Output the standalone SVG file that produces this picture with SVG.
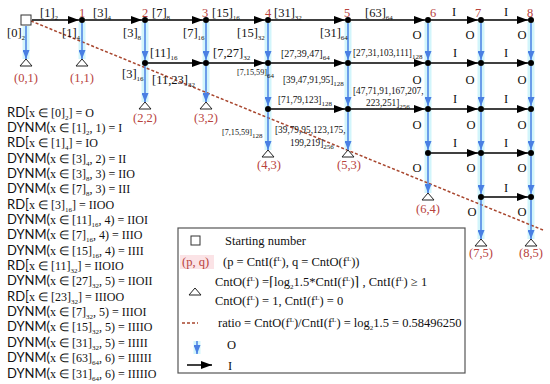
<svg xmlns="http://www.w3.org/2000/svg" width="550" height="384" viewBox="0 0 550 384">
<style>
.s{font-family:"Liberation Serif",serif;font-size:12.5px;fill:#111}
.l{font-size:12px}
.m{font-size:10px}
.n{font-size:9.3px}
.t{font-size:8.2px}
.sb{font-size:7px}
.sp{font-size:7px}
.r{fill:#b8423c}
.ss{font-family:Lato,"Liberation Sans",sans-serif;font-size:13px}
.h{stroke:#000;stroke-width:1.5;fill:none;marker-end:url(#ah)}
.v{stroke:#4a7fe3;stroke-width:1.5;fill:none;marker-end:url(#av)}
.g{stroke:#d2f5fb;stroke-width:7;fill:none}
.tri{fill:#fff;stroke:#222;stroke-width:1}
.dot{fill:#000}
.ds{stroke:#a8462e;stroke-width:1.5;stroke-dasharray:3 2;fill:none}
</style>
<defs>
<marker id="ah" markerUnits="userSpaceOnUse" markerWidth="11" markerHeight="8" refX="11" refY="4" orient="auto"><path d="M0,0 L11,4 L0,8 z" fill="#000"/></marker>
<marker id="av" markerUnits="userSpaceOnUse" markerWidth="9" markerHeight="7" refX="9" refY="3.5" orient="auto"><path d="M0,0 L9,3.5 L0,7 z" fill="#4a7fe3"/></marker>
</defs>
<rect width="550" height="384" fill="#fff"/>

<g id="glow">
<line class="g" x1="26" y1="26" x2="26" y2="59"/>
<line class="g" x1="82" y1="22" x2="82" y2="59"/>
<line class="g" x1="145" y1="22" x2="145" y2="102"/>
<line class="g" x1="206" y1="22" x2="206" y2="102"/>
<line class="g" x1="268" y1="22" x2="268" y2="150"/>
<line class="g" x1="348" y1="22" x2="348" y2="150"/>
<line class="g" x1="428" y1="22" x2="428" y2="193"/>
<line class="g" x1="481" y1="22" x2="481" y2="239"/>
<line class="g" x1="531" y1="22" x2="531" y2="239"/>
</g>

<g id="connectors">
<line class="ds" x1="31" y1="21" x2="543" y2="230"/>
<line class="h" x1="32" y1="20" x2="79" y2="20"/>
<line class="h" x1="85" y1="20" x2="142" y2="20"/>
<line class="h" x1="148" y1="20" x2="203" y2="20"/>
<line class="h" x1="209" y1="20" x2="265" y2="20"/>
<line class="h" x1="271" y1="20" x2="345" y2="20"/>
<line class="h" x1="351" y1="20" x2="425" y2="20"/>
<line class="h" x1="431" y1="20" x2="478" y2="20"/>
<line class="h" x1="484" y1="20" x2="528" y2="20"/>
<line class="h" x1="148" y1="63" x2="203" y2="63"/>
<line class="h" x1="209" y1="63" x2="265" y2="63"/>
<line class="h" x1="271" y1="63" x2="345" y2="63"/>
<line class="h" x1="351" y1="63" x2="425" y2="63"/>
<line class="h" x1="431" y1="63" x2="478" y2="63"/>
<line class="h" x1="484" y1="63" x2="528" y2="63"/>
<line class="h" x1="271" y1="109" x2="345" y2="109"/>
<line class="h" x1="351" y1="109" x2="425" y2="109"/>
<line class="h" x1="431" y1="109" x2="478" y2="109"/>
<line class="h" x1="484" y1="109" x2="528" y2="109"/>
<line class="h" x1="431" y1="153" x2="478" y2="153"/>
<line class="h" x1="484" y1="153" x2="528" y2="153"/>
<line class="h" x1="484" y1="197" x2="528" y2="197"/>
<line class="v" x1="26" y1="26" x2="26" y2="59"/>
<line class="v" x1="82" y1="23" x2="82" y2="59"/>
<line class="v" x1="145" y1="23" x2="145" y2="60"/>
<line class="v" x1="145" y1="66" x2="145" y2="102"/>
<line class="v" x1="206" y1="23" x2="206" y2="60"/>
<line class="v" x1="206" y1="66" x2="206" y2="102"/>
<line class="v" x1="268" y1="23" x2="268" y2="60"/>
<line class="v" x1="268" y1="66" x2="268" y2="106"/>
<line class="v" x1="268" y1="112" x2="268" y2="150"/>
<line class="v" x1="348" y1="23" x2="348" y2="60"/>
<line class="v" x1="348" y1="66" x2="348" y2="106"/>
<line class="v" x1="348" y1="112" x2="348" y2="150"/>
<line class="v" x1="428" y1="23" x2="428" y2="60"/>
<line class="v" x1="428" y1="66" x2="428" y2="106"/>
<line class="v" x1="428" y1="112" x2="428" y2="150"/>
<line class="v" x1="428" y1="156" x2="428" y2="193"/>
<line class="v" x1="481" y1="23" x2="481" y2="60"/>
<line class="v" x1="481" y1="66" x2="481" y2="106"/>
<line class="v" x1="481" y1="112" x2="481" y2="150"/>
<line class="v" x1="481" y1="156" x2="481" y2="194"/>
<line class="v" x1="481" y1="200" x2="481" y2="239"/>
<line class="v" x1="531" y1="23" x2="531" y2="60"/>
<line class="v" x1="531" y1="66" x2="531" y2="106"/>
<line class="v" x1="531" y1="112" x2="531" y2="150"/>
<line class="v" x1="531" y1="156" x2="531" y2="194"/>
<line class="v" x1="531" y1="200" x2="531" y2="239"/>
</g>

<g id="edge-labels" class="s">
<text x="40" y="17">[1]<tspan class="sb" dy="3">2</tspan></text>
<text x="93" y="17">[3]<tspan class="sb" dy="3">4</tspan></text>
<text x="152" y="17">[7]<tspan class="sb" dy="3">8</tspan></text>
<text x="212" y="17">[15]<tspan class="sb" dy="3">16</tspan></text>
<text x="274" y="17">[31]<tspan class="sb" dy="3">32</tspan></text>
<text x="365" y="17">[63]<tspan class="sb" dy="3">64</tspan></text>
<text x="454" y="16" text-anchor="middle">I</text>
<text x="506" y="16" text-anchor="middle">I</text>
<text x="7" y="37">[0]<tspan class="sb" dy="3">2</tspan></text>
<text x="62" y="37">[1]<tspan class="sb" dy="3">4</tspan></text>
<text x="123" y="37">[3]<tspan class="sb" dy="3">8</tspan></text>
<text x="183" y="37">[7]<tspan class="sb" dy="3">16</tspan></text>
<text x="237" y="37">[15]<tspan class="sb" dy="3">32</tspan></text>
<text x="320" y="37">[31]<tspan class="sb" dy="3">64</tspan></text>
<text x="417" y="39" text-anchor="middle">O</text>
<text x="470" y="39" text-anchor="middle">O</text>
<text x="522" y="39" text-anchor="middle">O</text>
<text x="150" y="57">[11]<tspan class="sb" dy="3">16</tspan></text>
<text x="213" y="57">[7,27]<tspan class="sb" dy="3">32</tspan></text>
<text x="281" y="57" class="m">[27,39,47]<tspan class="sb" dy="3">64</tspan></text>
<text x="353" y="56" class="n">[27,31,103,111]<tspan class="sb" dy="3">128</tspan></text>
<text x="455" y="57" text-anchor="middle">I</text>
<text x="506" y="57" text-anchor="middle">I</text>
<text x="122" y="78">[3]<tspan class="sb" dy="3">16</tspan></text>
<text x="152" y="84">[11,23]<tspan class="sb" dy="3">32</tspan></text>
<text x="237" y="75" class="t">[7,15,59]<tspan class="sb" dy="3">64</tspan></text>
<text x="283" y="83" class="n">[39,47,91,95]<tspan class="sb" dy="3">128</tspan></text>
<text x="417" y="84" text-anchor="middle">O</text>
<text x="470" y="84" text-anchor="middle">O</text>
<text x="522" y="84" text-anchor="middle">O</text>
<text x="278" y="103" class="n">[71,79,123]<tspan class="sb" dy="3">128</tspan></text>
<text x="353" y="94" class="n">[47,71,91,167,207,</text>
<text x="366" y="106" class="n">223,251]<tspan class="sb" dy="3">256</tspan></text>
<text x="455" y="103" text-anchor="middle">I</text>
<text x="506" y="103" text-anchor="middle">I</text>
<text x="417" y="129" text-anchor="middle">O</text>
<text x="471" y="129" text-anchor="middle">O</text>
<text x="522" y="129" text-anchor="middle">O</text>
<text x="222" y="135" class="t">[7,15,59]<tspan class="sb" dy="3">128</tspan></text>
<text x="275" y="133" class="n">[39,79,95,123,175,</text>
<text x="290" y="146" class="n">199,219]<tspan class="sb" dy="3">256</tspan></text>
<text x="455" y="147" text-anchor="middle">I</text>
<text x="506" y="147" text-anchor="middle">I</text>
<text x="417" y="172" text-anchor="middle">O</text>
<text x="471" y="172" text-anchor="middle">O</text>
<text x="522" y="172" text-anchor="middle">O</text>
<text x="506" y="192" text-anchor="middle">I</text>
<text x="472" y="216" text-anchor="middle">O</text>
<text x="522" y="216" text-anchor="middle">O</text>
</g>

<g id="start"><rect x="21" y="15" width="10" height="10" fill="#fff" stroke="#333" stroke-width="1"/></g>
<g id="nodes" class="s r">
<g id="n1"><circle class="dot" cx="82" cy="20" r="3"/><text x="82" y="17" text-anchor="middle">1</text></g>
<g id="n2"><circle class="dot" cx="145" cy="20" r="3"/><text x="145" y="17" text-anchor="middle">2</text></g>
<g id="n3"><circle class="dot" cx="206" cy="20" r="3"/><text x="205" y="17" text-anchor="middle">3</text></g>
<g id="n4"><circle class="dot" cx="268" cy="20" r="3"/><text x="268" y="17" text-anchor="middle">4</text></g>
<g id="n5"><circle class="dot" cx="348" cy="20" r="3"/><text x="347" y="17" text-anchor="middle">5</text></g>
<g id="n6"><circle class="dot" cx="428" cy="20" r="3"/><text x="433" y="17" text-anchor="middle">6</text></g>
<g id="n7"><circle class="dot" cx="481" cy="20" r="3"/><text x="478" y="17" text-anchor="middle">7</text></g>
<g id="n8"><circle class="dot" cx="531" cy="20" r="3"/><text x="530" y="17" text-anchor="middle">8</text></g>
<g id="r1"><circle class="dot" cx="145" cy="63" r="3"/><circle class="dot" cx="206" cy="63" r="3"/><circle class="dot" cx="268" cy="63" r="3"/><circle class="dot" cx="348" cy="63" r="3"/><circle class="dot" cx="428" cy="63" r="3"/><circle class="dot" cx="481" cy="63" r="3"/><circle class="dot" cx="531" cy="63" r="3"/></g>
<g id="r2"><circle class="dot" cx="268" cy="109" r="3"/><circle class="dot" cx="348" cy="109" r="3"/><circle class="dot" cx="428" cy="109" r="3"/><circle class="dot" cx="481" cy="109" r="3"/><circle class="dot" cx="531" cy="109" r="3"/></g>
<g id="r3"><circle class="dot" cx="428" cy="153" r="3"/><circle class="dot" cx="481" cy="153" r="3"/><circle class="dot" cx="531" cy="153" r="3"/></g>
<g id="r4"><circle class="dot" cx="481" cy="197" r="3"/><circle class="dot" cx="531" cy="197" r="3"/></g>
</g>

<g id="ends" class="s r">
<g id="e01"><path class="tri" d="M26,59 L32,66 L20,66 z"/><text x="26" y="82" text-anchor="middle">(0,1)</text></g>
<g id="e11"><path class="tri" d="M82,59 L88,66 L76,66 z"/><text x="82" y="82" text-anchor="middle">(1,1)</text></g>
<g id="e22"><path class="tri" d="M145,102 L151,109 L139,109 z"/><text x="145" y="122" text-anchor="middle">(2,2)</text></g>
<g id="e32"><path class="tri" d="M206,102 L212,109 L200,109 z"/><text x="206" y="122" text-anchor="middle">(3,2)</text></g>
<g id="e43"><path class="tri" d="M268,150 L274,157 L262,157 z"/><text x="269" y="169" text-anchor="middle">(4,3)</text></g>
<g id="e53"><path class="tri" d="M348,150 L354,157 L342,157 z"/><text x="349" y="169" text-anchor="middle">(5,3)</text></g>
<g id="e64"><path class="tri" d="M428,193 L434,200 L422,200 z"/><text x="428" y="213" text-anchor="middle">(6,4)</text></g>
<g id="e75"><path class="tri" d="M481,239 L487,246 L475,246 z"/><text x="481" y="257" text-anchor="middle">(7,5)</text></g>
<g id="e85"><path class="tri" d="M531,239 L537,246 L525,246 z"/><text x="531" y="257" text-anchor="middle">(8,5)</text></g>
</g>

<g id="list" class="s l">
<text x="7" y="116.5"><tspan class="ss">RD[</tspan>x ∈ [0]<tspan class="sb" dy="3">2</tspan><tspan dy="-3">] = O</tspan></text>
<text x="7" y="131.9"><tspan class="ss">DYNM(</tspan>x ∈ [1]<tspan class="sb" dy="3">2</tspan><tspan dy="-3">, 1) = I</tspan></text>
<text x="7" y="147.2"><tspan class="ss">RD[</tspan>x ∈ [1]<tspan class="sb" dy="3">4</tspan><tspan dy="-3">] = IO</tspan></text>
<text x="7" y="162.6"><tspan class="ss">DYNM(</tspan>x ∈ [3]<tspan class="sb" dy="3">4</tspan><tspan dy="-3">, 2) = II</tspan></text>
<text x="7" y="177.9"><tspan class="ss">DYNM(</tspan>x ∈ [3]<tspan class="sb" dy="3">8</tspan><tspan dy="-3">, 3) = IIO</tspan></text>
<text x="7" y="193.3"><tspan class="ss">DYNM(</tspan>x ∈ [7]<tspan class="sb" dy="3">8</tspan><tspan dy="-3">, 3) = III</tspan></text>
<text x="7" y="208.6"><tspan class="ss">RD[</tspan>x ∈ [3]<tspan class="sb" dy="3">16</tspan><tspan dy="-3">] = IIOO</tspan></text>
<text x="7" y="224"><tspan class="ss">DYNM(</tspan>x ∈ [11]<tspan class="sb" dy="3">16</tspan><tspan dy="-3">, 4) = IIOI</tspan></text>
<text x="7" y="239.3"><tspan class="ss">DYNM(</tspan>x ∈ [7]<tspan class="sb" dy="3">16</tspan><tspan dy="-3">, 4) = IIIO</tspan></text>
<text x="7" y="254.7"><tspan class="ss">DYNM(</tspan>x ∈ [15]<tspan class="sb" dy="3">16</tspan><tspan dy="-3">, 4) = IIII</tspan></text>
<text x="7" y="270"><tspan class="ss">RD[</tspan>x ∈ [11]<tspan class="sb" dy="3">32</tspan><tspan dy="-3">] = IIOIO</tspan></text>
<text x="7" y="285.4"><tspan class="ss">DYNM(</tspan>x ∈ [27]<tspan class="sb" dy="3">32</tspan><tspan dy="-3">, 5) = IIOII</tspan></text>
<text x="7" y="300.7"><tspan class="ss">RD[</tspan>x ∈ [23]<tspan class="sb" dy="3">32</tspan><tspan dy="-3">] = IIIOO</tspan></text>
<text x="7" y="316.1"><tspan class="ss">DYNM(</tspan>x ∈ [7]<tspan class="sb" dy="3">32</tspan><tspan dy="-3">, 5) = IIIOI</tspan></text>
<text x="7" y="331.4"><tspan class="ss">DYNM(</tspan>x ∈ [15]<tspan class="sb" dy="3">32</tspan><tspan dy="-3">, 5) = IIIIO</tspan></text>
<text x="7" y="346.8"><tspan class="ss">DYNM(</tspan>x ∈ [31]<tspan class="sb" dy="3">32</tspan><tspan dy="-3">, 5) = IIIII</tspan></text>
<text x="7" y="362.1"><tspan class="ss">DYNM(</tspan>x ∈ [63]<tspan class="sb" dy="3">64</tspan><tspan dy="-3">, 6) = IIIIII</tspan></text>
<text x="7" y="377.5"><tspan class="ss">DYNM(</tspan>x ∈ [31]<tspan class="sb" dy="3">64</tspan><tspan dy="-3">, 6) = IIIIIO</tspan></text>
</g>

<g id="legend" class="s">
<rect x="178" y="228" width="287" height="145" fill="#fff" stroke="#555" stroke-width="1.2"/>
<rect x="191" y="236" width="9" height="9" fill="#fff" stroke="#333" stroke-width="1"/>
<text x="225" y="245">Starting number</text>
<rect x="180" y="255" width="34" height="14" fill="#fbe3e6"/>
<text x="182" y="266" class="r">(p, q)</text>
<text x="223" y="266">(p = CntI(f<tspan class="sp" dy="-5">L</tspan><tspan dy="5">), q = CntO(f</tspan><tspan class="sp" dy="-5">L</tspan><tspan dy="5">))</tspan></text>
<path class="tri" d="M195,288 L201,295 L189,295 z"/>
<text x="215" y="286">CntO(f<tspan class="sp" dy="-5">L</tspan><tspan dy="5">) =⌈log</tspan><tspan class="sb" dy="3">2</tspan><tspan dy="-3">1.5*CntI(f</tspan><tspan class="sp" dy="-5">L</tspan><tspan dy="5">)⌉ , CntI(f</tspan><tspan class="sp" dy="-5">L</tspan><tspan dy="5">) ≥ 1</tspan></text>
<text x="215" y="305">CntO(f<tspan class="sp" dy="-5">L</tspan><tspan dy="5">) = 1, CntI(f</tspan><tspan class="sp" dy="-5">L</tspan><tspan dy="5">) = 0</tspan></text>
<line class="ds" x1="182" y1="323" x2="198" y2="323" stroke="#c0392b"/>
<text x="218" y="327">ratio = CntO(f<tspan class="sp" dy="-5">L</tspan><tspan dy="5">)/CntI(f</tspan><tspan class="sp" dy="-5">L</tspan><tspan dy="5">) = log</tspan><tspan class="sb" dy="3">2</tspan><tspan dy="-3">1.5 = 0.58496250</tspan></text>
<line class="g" x1="197" y1="341" x2="197" y2="354"/>
<line class="v" x1="197" y1="341" x2="197" y2="354"/>
<text x="227" y="349">O</text>
<line class="h" x1="187" y1="365" x2="212" y2="365"/>
<text x="228" y="370">I</text>
</g>
</svg>
